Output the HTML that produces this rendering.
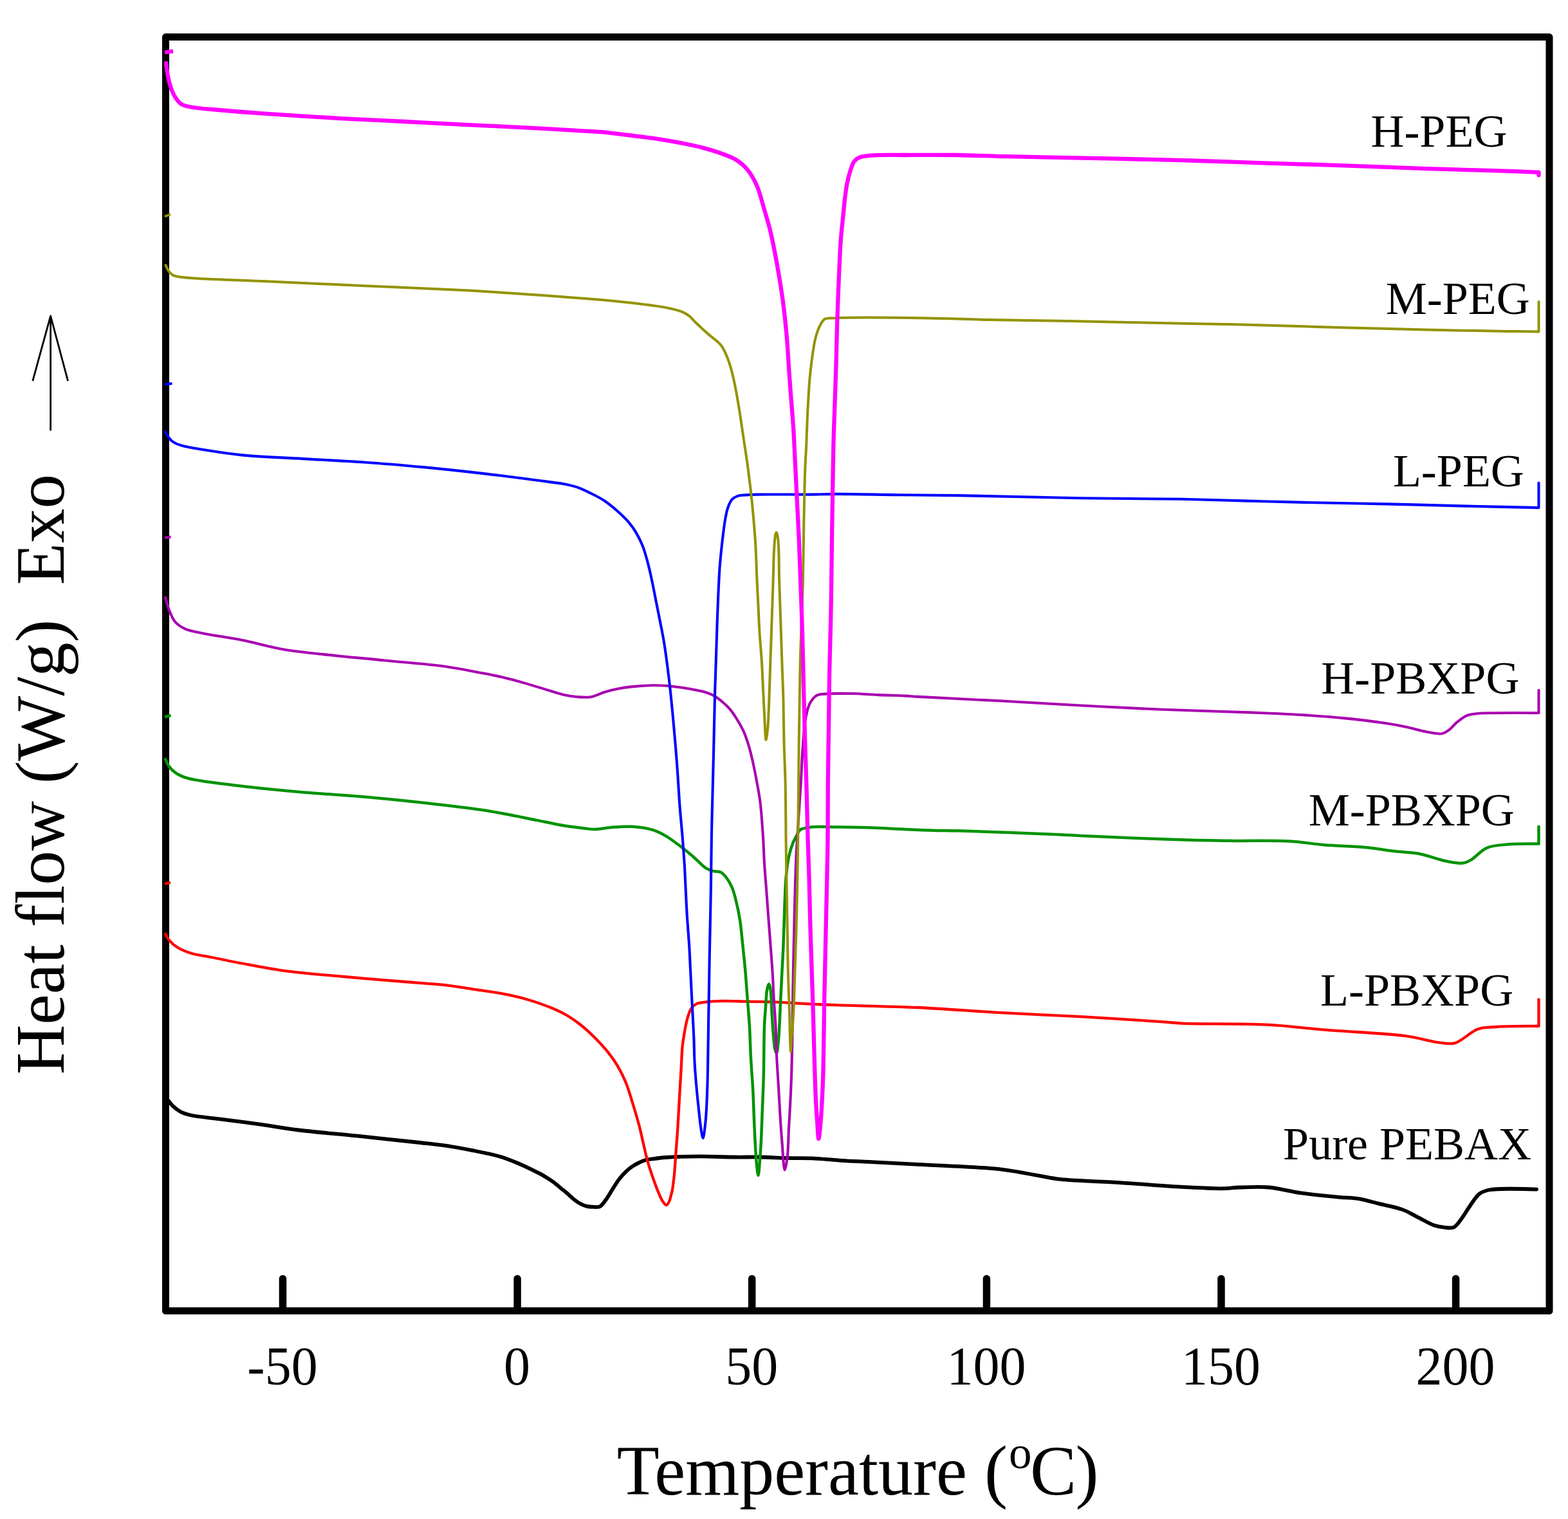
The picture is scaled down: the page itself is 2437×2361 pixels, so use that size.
<!DOCTYPE html>
<html><head><meta charset="utf-8"><title>DSC curves</title>
<style>html,body{margin:0;padding:0;background:#fff;}svg{display:block;}</style>
</head><body>
<svg width="2437" height="2361" viewBox="0 0 2437 2361">
<rect width="2437" height="2361" fill="#fff"/>
<rect x="257.5" y="57.6" width="2150.5" height="1979.9" fill="none" stroke="#000" stroke-width="11" stroke-linejoin="round"/>
<g stroke="#000" stroke-width="11.5" stroke-linecap="round">
<line x1="439.5" y1="1987.5" x2="439.5" y2="2037"/>
<line x1="804.1" y1="1987.5" x2="804.1" y2="2037"/>
<line x1="1168.7" y1="1987.5" x2="1168.7" y2="2037"/>
<line x1="1533.4" y1="1987.5" x2="1533.4" y2="2037"/>
<line x1="1898" y1="1987.5" x2="1898" y2="2037"/>
<line x1="2262.6" y1="1987.5" x2="2262.6" y2="2037"/>
</g>
<g fill="none" stroke-linejoin="round" stroke-linecap="round">
<path stroke="#000000" stroke-width="5.8" d="M262.2,1711.2C262.2,1711.2 265.8,1716.4 268.4,1718.9C271.6,1722 276.1,1725.6 280.6,1728C285.2,1730.5 289.3,1731.7 295.9,1733.3C307,1735.9 325.4,1737.3 341.8,1739.4C360.7,1741.9 382.6,1744.5 403,1747.3C423.4,1750.2 441.8,1753.7 464.3,1756.5C491.8,1759.9 525.5,1762.5 556.1,1765.7C586.7,1768.9 622.8,1772.7 647.9,1775.5C665.3,1777.5 677.6,1778.6 692.1,1780.7C706.4,1782.8 720.3,1785.3 734.3,1788.1C748.4,1790.9 763.8,1793.8 776.4,1797.5C787,1800.6 795.8,1804.2 805,1808C813.7,1811.6 823.7,1816.6 830.2,1819.8C834.4,1821.8 837,1823.1 840.4,1824.9C843.8,1826.8 847.2,1828.9 850.6,1831C854,1833.1 857.5,1835.2 860.8,1837.7C864.3,1840.3 867.6,1843.5 871,1846.3C874.4,1849.1 877.8,1851.6 881.2,1854.5C884.6,1857.4 887.9,1860.9 891.4,1863.7C894.7,1866.3 898.1,1868.9 901.6,1870.8C904.9,1872.6 908.3,1874.1 911.8,1874.9C915.1,1875.7 918.6,1875.8 922,1875.9C925.4,1876 929.1,1876.9 932.2,1875.4C936,1873.5 939.2,1868.1 942.4,1863.7C946,1858.8 949.2,1852.6 952.7,1847.3C956.1,1842.1 959.3,1836.6 962.9,1832C966.2,1827.8 969.6,1824.1 973.1,1820.8C976.4,1817.7 979.8,1815 983.3,1812.7C986.6,1810.5 990,1808.6 993.5,1807C996.8,1805.4 1000.2,1803.9 1003.7,1803C1007.1,1802.1 1009.9,1801.9 1013.9,1801.4C1019.5,1800.6 1025.9,1799.6 1034.3,1799C1047.7,1798 1069.4,1797.5 1086.9,1797.4C1104.5,1797.3 1123,1798.3 1139.6,1798.5C1154.4,1798.7 1167.7,1798.3 1181.7,1798.5C1195.7,1798.7 1209.8,1799.7 1223.8,1800C1237.9,1800.4 1252,1800 1266,1800.6C1280.1,1801.2 1294.1,1802.9 1308.1,1803.8C1322.1,1804.7 1334,1805.1 1350,1805.9C1371.7,1807 1397.7,1808.3 1426.4,1809.9C1463.3,1811.9 1524.8,1814.2 1552.8,1817.1C1566.9,1818.6 1573.9,1820.2 1584.4,1821.9C1594.9,1823.7 1605.5,1825.8 1616,1827.6C1626.5,1829.4 1634.1,1831.4 1647.5,1832.9C1670.6,1835.5 1710.7,1836.3 1742.3,1838.3C1773.9,1840.3 1808.9,1843.4 1837,1844.9C1859.6,1846.1 1881.3,1847.5 1898.2,1847.3C1910.2,1847.2 1917.7,1845.8 1928.8,1845.5C1941.9,1845.1 1957,1844.2 1971.7,1845.5C1987.5,1846.9 2003.4,1851.6 2020.7,1854.1C2039.9,1856.8 2065,1859.2 2081.9,1860.8C2093.8,1861.9 2102.4,1861.6 2112.5,1863.3C2122.8,1865 2132.4,1868.2 2143.1,1870.9C2154.8,1873.8 2169,1876.1 2179.8,1880.1C2189,1883.5 2196.1,1888.2 2204.3,1892.3C2212.5,1896.4 2221.4,1902.1 2228.8,1904.6C2234.4,1906.5 2239,1907.1 2244.1,1907.6C2249.2,1908.1 2254.9,1909.6 2259.4,1907.6C2264.3,1905.4 2267.8,1899 2271.7,1893.9C2276,1888.4 2279.5,1881.7 2283.9,1875.5C2288.6,1868.9 2293.4,1860 2299.2,1855.6C2303.9,1852.1 2307.3,1850.9 2314.5,1849.5C2329.7,1846.5 2388,1848.6 2388,1848.6"/>
<path stroke="#ff0000" stroke-width="4.3" d="M257,1451.7C257,1451.7 260,1458.1 262.6,1461.2C265.8,1465 270.2,1469.1 275.3,1472.3C281.4,1476.1 289.2,1479.3 297.4,1481.8C306.9,1484.7 317.4,1485.7 329,1488C343.2,1490.8 359.4,1494.3 376.4,1497.5C395.9,1501.2 416.3,1505.4 439.6,1508.6C467.9,1512.5 502.8,1515.1 534.4,1518C566,1520.9 600.7,1523.7 629.1,1526C652.2,1527.9 673.2,1528.9 692.1,1531.1C707.6,1532.9 720.2,1535.3 734.3,1537.4C748.3,1539.5 762.4,1541.1 776.4,1543.7C790.5,1546.3 804.6,1549.2 818.5,1553.2C832.7,1557.3 849.1,1563.1 860.6,1568C869,1571.5 874.8,1574.4 881.7,1578.5C888.9,1582.8 895.9,1587.7 902.8,1593.2C910,1598.9 917,1605.4 923.8,1612.2C931,1619.4 938.7,1627.7 944.9,1635.4C950.5,1642.4 955.1,1648.9 959.6,1656.4C964.3,1664.3 968.5,1672.7 972.3,1681.7C976.4,1691.5 979.4,1702.4 982.8,1713.3C986.4,1724.8 990.3,1737.6 993.3,1749.1C996.1,1759.7 998.2,1770.2 1000.5,1780C1002.6,1788.8 1004.4,1797.3 1006.5,1805C1008.4,1811.8 1010.4,1817.9 1012.5,1824C1014.5,1829.8 1016.5,1835.6 1018.5,1841C1020.3,1845.9 1022.1,1850.6 1024,1855C1025.8,1859.1 1027.3,1863.3 1029.5,1866.5C1031.4,1869.2 1033.9,1873.3 1035.8,1873.2C1037.6,1873.1 1039.3,1868.9 1040.5,1866.4C1041.6,1864 1042,1861.1 1042.7,1858.5C1043.4,1855.9 1044.2,1853.4 1044.8,1850.6C1045.5,1847.3 1045.8,1843.7 1046.3,1840C1046.8,1835.9 1047.4,1831.8 1047.9,1826.9C1048.5,1820.7 1049,1812.3 1049.5,1805.8C1049.9,1800.2 1050.1,1796.3 1050.6,1790C1051.3,1780.7 1052.4,1768.1 1053.2,1755.3C1054.2,1739.6 1055.2,1719.3 1056.2,1702.7C1057.1,1687.9 1057.9,1673.8 1058.7,1660.5C1059.4,1648.6 1059.6,1636.5 1060.6,1626.5C1061.4,1618.6 1062.5,1612.4 1063.7,1605.4C1064.9,1598.4 1066.1,1591 1068,1584.4C1069.7,1578.4 1071.4,1571.7 1074.3,1567.5C1076.6,1564.2 1079.2,1561.8 1082.7,1560.1C1086.7,1558.2 1091.8,1558.1 1097.4,1557.4C1104.7,1556.5 1113.4,1556.1 1122.7,1555.9C1134.1,1555.7 1147.6,1556.4 1160.6,1556.6C1174.3,1556.9 1188.2,1556.9 1202.7,1557.4C1218.3,1558 1235,1559.3 1251.2,1560.1C1267.4,1560.9 1279.9,1561.5 1300,1562.2C1332.3,1563.4 1384.3,1564.1 1426.4,1566C1468.5,1568 1510.7,1571.5 1552.8,1573.9C1594.9,1576.3 1637,1577.8 1679.1,1580.2C1721.2,1582.6 1777.4,1586.1 1805.5,1588.1C1819.5,1589.1 1822.8,1589.9 1837,1590.6C1866.4,1592 1932.9,1590.6 1972.9,1592.8C2004.7,1594.5 2027,1598.1 2058.2,1600.7C2096.2,1603.9 2151.8,1605.8 2184.5,1610.2C2205.6,1613 2221.8,1618.6 2236,1620.3C2245.8,1621.5 2252.3,1623.6 2261,1621.4C2272.3,1618.5 2285.1,1603.6 2297,1599.5C2307,1596.1 2314.9,1596.8 2326.7,1596C2344.1,1594.8 2391.5,1595 2391.5,1595L2391.5,1553.3"/>
<path stroke="#ff0000" stroke-width="4.3" stroke-linecap="butt" d="M256,1374 L265,1371.5"/>
<path stroke="#009200" stroke-width="4.5" d="M257,1180C257,1180 260.2,1187.7 262.6,1191.1C265.1,1194.6 268.3,1197.8 272.1,1200.6C276.5,1203.8 281.9,1206.4 288,1208.5C295.3,1211 302.9,1212 313.2,1213.8C329.5,1216.6 353.2,1219.3 376.4,1222C404.8,1225.3 439.6,1228.7 471.2,1231.5C502.8,1234.2 534.4,1235.8 566,1238.5C597.6,1241.3 629.6,1244.5 660.7,1248C690.9,1251.4 725.8,1255.5 750,1259.1C766.7,1261.6 778.1,1263.9 792.1,1266.5C806.2,1269.1 820.2,1272.1 834.3,1274.9C848.3,1277.7 863.3,1281.1 876.4,1283.3C887.7,1285.2 899.1,1286.5 908,1287.5C914.5,1288.2 918.6,1289.1 924.8,1289C932.4,1288.9 941.2,1286.7 950.1,1286C960,1285.2 971.2,1284.2 981.7,1284.8C992.3,1285.4 1004,1286.9 1013.3,1289.6C1021.2,1291.9 1027.6,1295.2 1034.4,1299.1C1041.6,1303.2 1048.5,1308.6 1055.4,1313.8C1062.5,1319.1 1069.6,1324.8 1076.5,1330.7C1083.6,1336.7 1091.5,1345.9 1097.6,1349.7C1101.5,1352.1 1104.4,1352.9 1108.1,1353.9C1112.1,1355 1117.2,1354.2 1120.7,1356C1124.1,1357.8 1126.5,1361 1129.1,1364.4C1132.2,1368.5 1135.2,1373.7 1137.6,1379.2C1140.3,1385.4 1142,1392.3 1143.9,1400C1146.2,1409.2 1148.4,1419.8 1150.1,1430.6C1152,1442.5 1152.9,1455.5 1154.3,1468.5C1155.7,1482.2 1157.3,1496.6 1158.5,1510.6C1159.7,1524.7 1160.6,1538.7 1161.7,1552.8C1162.8,1566.8 1164,1580.2 1164.9,1594.9C1165.8,1610.9 1166.1,1628.6 1167,1645C1167.9,1660.9 1169.2,1676 1170.1,1692.1C1171,1709.2 1171.5,1728.2 1172.2,1744.8C1172.9,1759.6 1173.5,1774.4 1174.3,1786.9C1174.9,1797 1175.5,1806.9 1176.4,1814.3C1177,1819.3 1177.9,1826.9 1178.5,1826.9C1179.3,1826.9 1180,1815.1 1180.6,1808C1181.4,1798.8 1182.1,1788.3 1182.8,1776.4C1183.6,1761.1 1184.2,1741.3 1184.9,1723.7C1185.6,1706.2 1186.3,1690.3 1186.8,1671.1C1187.4,1648 1187.2,1614.8 1188,1594.9C1188.5,1582.1 1189.4,1573.2 1190.1,1563.3C1190.8,1554.4 1190.9,1544.1 1192.2,1538C1192.9,1534.4 1194.1,1529.6 1195,1529.6C1195.9,1529.6 1196.8,1534.2 1197.5,1538C1198.9,1545.7 1198.9,1562.2 1199.6,1573.8C1200.3,1584.7 1200.9,1595.5 1201.7,1605.4C1202.5,1614.1 1202.9,1624.4 1204.3,1630C1205,1633.1 1206.2,1637.1 1207,1637C1208.3,1636.8 1209.1,1624.9 1210,1616C1211.5,1600.6 1212.3,1571.7 1213.3,1552.8C1214.1,1537.3 1214.7,1524.7 1215.4,1510.6C1216.1,1496.6 1216.9,1484 1217.5,1468.5C1218.3,1449.6 1218.8,1424.2 1219.6,1405.3C1220.2,1389.8 1220.5,1376.2 1221.7,1363.2C1222.7,1351.9 1224,1341 1226,1331.6C1227.7,1323.8 1229.9,1316.5 1232.3,1310.5C1234.2,1305.7 1236.5,1301.7 1238.6,1298C1240.3,1294.9 1241,1291.7 1243.8,1289.7C1247.5,1287 1253.7,1286.4 1260.6,1285.5C1271.4,1284.2 1288,1285.4 1302.8,1285.5C1319.4,1285.7 1338.8,1285.9 1355.4,1286.5C1370.2,1287 1382.7,1287.9 1397.5,1288.6C1414,1289.3 1433.7,1290.3 1450,1290.7C1464.1,1291.1 1472,1290.8 1489.6,1291.3C1524.7,1292.2 1615,1295.7 1647.5,1297.2C1662.1,1297.9 1664.5,1298.3 1679.1,1299C1711.6,1300.6 1793.4,1304 1837,1305.3C1867.8,1306.2 1888.9,1306.5 1916,1306.9C1944.7,1307.3 1978.7,1306 2004.5,1307.5C2024.7,1308.6 2039.6,1311.7 2058.2,1313.2C2078.4,1314.9 2101.9,1315.1 2121.4,1317C2138.4,1318.6 2154.2,1321.7 2168.8,1323.3C2181.3,1324.7 2191.3,1324.3 2203.5,1326.5C2217.4,1329 2234.9,1336 2247.7,1338.5C2257.2,1340.4 2266.1,1342.4 2273,1341.6C2278,1341 2281,1339.5 2285.7,1336.9C2292.9,1332.9 2301.5,1322 2310.9,1317.9C2320.4,1313.8 2330.8,1313.7 2342.5,1312.6C2357,1311.2 2391.5,1311.6 2391.5,1311.6L2391.5,1284.8"/>
<path stroke="#009200" stroke-width="4.5" stroke-linecap="butt" d="M256,1114.5 L265.5,1112"/>
<path stroke="#a800b0" stroke-width="4.1" d="M257,928.6C257,928.6 260.2,941.3 262.6,947.5C265.1,953.9 267.7,961.4 272.1,966.5C276.3,971.3 281.8,974.8 288,977.6C295.2,980.9 302.9,981.7 313.2,983.9C329.5,987.4 355.4,990.8 376.4,995C397.5,999.2 418.4,1005.5 439.6,1009.2C460.6,1012.9 479.6,1014.5 502.8,1017.1C531.2,1020.3 566,1023.3 597.6,1026.5C629.2,1029.6 664.7,1032.2 692.3,1036C714,1039 733.7,1043.2 750,1046.3C762.1,1048.6 771.1,1050.2 781.6,1052.7C792.2,1055.2 802.7,1058.1 813.2,1061.1C823.8,1064.1 834.3,1067.4 844.8,1070.6C855.3,1073.7 866.9,1077.9 876.4,1080C884,1081.7 890.4,1082.7 897.4,1083.2C904.4,1083.7 911.6,1084.4 918.5,1083.2C925.6,1082 932.5,1077.9 939.6,1075.8C946.6,1073.7 953.6,1072 960.6,1070.6C967.6,1069.2 973.9,1068.2 981.7,1067.4C991.2,1066.4 1003.8,1065.5 1013.3,1065.3C1021,1065.1 1027.9,1065.3 1034.4,1065.7C1040,1066.1 1044.4,1066.8 1050,1067.5C1056.5,1068.4 1064,1069.4 1071,1070.6C1078,1071.8 1085.5,1072.9 1092.1,1074.8C1098.1,1076.5 1103.7,1078.3 1109,1081.1C1114.3,1083.9 1119.3,1088 1123.7,1091.7C1127.7,1095.1 1130.9,1098.2 1134.3,1102.2C1138,1106.6 1141.4,1111.7 1144.8,1117C1148.5,1122.8 1152.2,1129.1 1155.3,1135.9C1158.6,1143.1 1161.3,1151.1 1163.7,1159.1C1166.2,1167.3 1168.1,1175.5 1170.1,1184.4C1172.3,1194.3 1174.5,1205.5 1176.4,1216C1178.3,1226.5 1180.1,1235.6 1181.6,1247.5C1183.5,1262.7 1184.8,1283.5 1185.9,1300C1186.9,1314.8 1187.1,1328.1 1188,1342.1C1188.9,1356.2 1190.1,1370.2 1191.2,1384.3C1192.2,1398.3 1193.3,1412.4 1194.3,1426.4C1195.4,1440.4 1196.4,1454.5 1197.5,1468.5C1198.5,1482.5 1199.7,1496.6 1200.6,1510.6C1201.5,1524.7 1201.9,1538.7 1202.7,1552.8C1203.5,1566.8 1204.8,1580.6 1205.5,1594.9C1206.2,1609.7 1206.3,1624.6 1207,1640C1207.8,1656.2 1209.1,1673.9 1210,1690C1210.9,1705.1 1211.6,1719.5 1212.5,1734C1213.4,1748.2 1214.3,1762 1215.5,1776C1216.7,1790.1 1217.9,1818.4 1219.6,1818.5C1220.8,1818.6 1222.8,1805.7 1223.8,1797.4C1225.2,1785.8 1225.2,1769.3 1225.9,1755.3C1226.7,1741.3 1227.6,1727.2 1228.3,1713.2C1229,1699.2 1229.6,1685.8 1230.1,1671.1C1230.6,1654.9 1231,1638.9 1231.3,1620C1231.7,1596.3 1231.8,1570.6 1232.3,1540C1233,1498.8 1234.4,1433.6 1235.4,1394.8C1236.1,1368.9 1236.6,1349 1237.5,1330C1238.2,1315.1 1239.2,1303.3 1240,1290C1240.8,1276.7 1241.7,1262.8 1242.5,1250C1243.3,1238.2 1244.1,1227.9 1244.8,1216C1245.6,1202.7 1246,1187.9 1246.9,1173.8C1247.8,1159.8 1248.8,1143.3 1250.1,1131.7C1251,1123.4 1251.8,1117.2 1253.3,1110.6C1254.7,1104.6 1255.8,1098.8 1258.5,1093.8C1261.1,1089 1264.9,1083.6 1269.1,1081.1C1272.8,1078.9 1276.2,1079.2 1281.7,1078.6C1291.6,1077.6 1309.8,1077.8 1323.8,1078C1337.9,1078.2 1351.9,1079.5 1366,1080.1C1380,1080.7 1397,1081 1408.1,1081.6C1415.5,1082 1417.6,1082.4 1426.4,1082.9C1449.6,1084.3 1510.7,1087 1552.8,1089.3C1594.9,1091.6 1637,1094.3 1679.1,1096.5C1721.2,1098.8 1766.4,1101.2 1805.5,1102.8C1839.3,1104.2 1871.8,1105 1900.2,1106C1923.4,1106.8 1942.3,1107.3 1963.4,1108.2C1984.5,1109.1 2005.5,1110 2026.6,1111.4C2047.7,1112.8 2068.8,1114.3 2089.8,1116.4C2110.9,1118.5 2135.6,1121.4 2153,1124C2165.3,1125.9 2174,1127.5 2184.5,1129.7C2195.1,1131.9 2206.1,1135.4 2216.1,1137.2C2224.8,1138.8 2234.4,1141.4 2241,1140.2C2245.9,1139.3 2249.3,1136.5 2253,1133.8C2256.8,1131 2259.5,1126.8 2263.5,1123.4C2268.1,1119.6 2273.8,1114.7 2279.3,1112.3C2284.3,1110.1 2288.9,1109.9 2295.1,1109.2C2303.8,1108.2 2314.3,1108.4 2326.7,1108.2C2344.5,1107.9 2391.5,1108.2 2391.5,1108.2L2391.5,1072.8"/>
<path stroke="#a800b0" stroke-width="4.1" stroke-linecap="butt" d="M256,836 L265.5,834.5"/>
<path stroke="#0000ff" stroke-width="4.1" d="M257,671.1C257,671.1 260.5,677.9 262.6,680.6C264.5,683.1 266.3,685.1 269,686.9C272.3,689.1 276.3,690.7 281.6,692.3C289.7,694.8 300.8,696.5 313.2,698.6C330.6,701.5 353.2,705.1 376.4,707.4C404.8,710.2 439.6,711.2 471.2,713.1C502.8,714.9 534.4,716.3 566,718.5C597.6,720.7 629.6,723.5 660.7,726.4C690.9,729.3 725.8,733.1 750,735.9C766.6,737.8 778.1,739.2 792.1,741C806.2,742.8 820.2,744.6 834.3,746.5C848.3,748.4 864.8,750 876.4,752.2C884.7,753.8 890.5,755 897.4,757.4C904.5,759.9 911.5,763.4 918.5,766.9C925.6,770.4 932.8,773.9 939.6,778.5C946.8,783.3 954.1,789.5 960.6,795.3C966.7,800.8 972.7,806.6 977.5,812.2C981.6,817.1 984.7,821.4 988,826.9C991.8,833.2 995.5,840.4 998.6,848C1002,856.4 1004.5,866.2 1007,875.4C1009.4,884.5 1011.3,893.3 1013.3,902.8C1015.5,912.9 1017.5,923.9 1019.6,934.4C1021.7,944.9 1023.8,955.3 1025.9,966C1028.1,977.1 1030.2,986.9 1032.3,1000C1035.2,1017.8 1038.2,1042.1 1040.7,1063.2C1043.1,1084.2 1045.1,1105.3 1047,1126.4C1048.9,1147.5 1050.7,1168.5 1052.3,1189.6C1053.9,1210.7 1055,1233.3 1056.5,1252.8C1057.8,1269.7 1059.4,1284.7 1060.6,1300C1061.8,1314.4 1062.8,1328.1 1063.7,1342.1C1064.6,1356.2 1065.1,1370.2 1065.8,1384.3C1066.5,1398.3 1067.1,1412.4 1068,1426.4C1068.9,1440.4 1070.2,1454.5 1071.1,1468.5C1072,1482.5 1072.5,1496.6 1073.2,1510.6C1073.9,1524.7 1074.5,1537.3 1075.3,1552.8C1076.3,1571.7 1077.8,1598.2 1078.5,1616C1079,1629.1 1078.9,1638.1 1079.5,1650C1080.2,1663.3 1081.5,1679.1 1082.7,1692.1C1083.7,1703.4 1084.8,1713.5 1085.9,1723.7C1086.9,1733.2 1087.7,1743 1089,1751.1C1090,1757.7 1091.4,1769 1092.6,1769C1093.9,1769 1095.4,1753.4 1096.4,1744.8C1097.5,1735 1098,1723.7 1098.5,1713.2C1099,1702.7 1099.3,1692.1 1099.6,1681.6C1099.9,1671.1 1100,1663.4 1100.2,1650C1100.6,1626.5 1101.2,1581.7 1101.7,1552.8C1102.1,1529.5 1102.3,1513.3 1102.7,1489.6C1103.2,1459 1104.3,1417.5 1104.8,1384.3C1105.3,1354.6 1105.5,1324.1 1105.9,1300C1106.2,1282 1106.6,1270.8 1107,1252.8C1107.6,1228.7 1108.4,1197.4 1109.1,1168.5C1109.8,1137.8 1110.4,1102.4 1111.2,1073.7C1111.9,1049.8 1112.7,1029.8 1113.4,1008.1C1114.1,986.8 1114.6,966 1115.5,944.9C1116.4,923.8 1117.2,900.6 1118.6,881.7C1119.8,866.2 1121.3,852.6 1122.8,839.6C1124.1,828.3 1125.4,817.2 1127,808C1128.3,800.8 1129.3,794.6 1131.3,789C1133,784.3 1134.8,779.5 1137.6,776.4C1139.9,773.8 1143,772.2 1146,771.1C1148.9,770 1151.6,770 1155.3,769.6C1160.9,769 1167,768.8 1176.4,768.6C1195.1,768.2 1237.8,768.8 1260.6,768.6C1276.2,768.5 1284,767.9 1300,767.9C1324.9,767.8 1363.7,768.8 1395.4,769.2C1426.9,769.6 1452.8,769.5 1489.6,770.1C1541.8,770.9 1618.8,773.2 1679.1,774.2C1734.1,775.1 1791,774.9 1837,775.8C1872.6,776.5 1900.2,777.5 1931.8,778.4C1963.4,779.2 1992.7,780.1 2026.6,780.9C2065.7,781.8 2110.9,782.4 2153,783.4C2195.1,784.3 2238.4,785.6 2279.3,786.6C2317.8,787.5 2391.5,789.1 2391.5,789.1L2391.5,750.6"/>
<path stroke="#0000ff" stroke-width="4.1" stroke-linecap="butt" d="M256,597.5 L267.5,596"/>
<path stroke="#939300" stroke-width="4.0" d="M257.4,412.2C257.4,412.2 259.4,416.6 260.5,418.5C261.5,420.2 262.4,421.7 263.7,423.2C265.2,424.9 267.2,426.9 269.2,428C271.1,429 272.7,429.3 275.5,429.8C280.6,430.8 287.3,431.5 297.4,432.3C320.1,434.1 367.9,435.2 408,437C456,439.1 513.3,441.9 566,444.3C618.7,446.7 674.3,448.6 724,451.3C768.4,453.7 819.2,457.4 850,459.6C867.8,460.9 878.1,461.7 892.1,462.8C906.2,463.9 920.2,464.8 934.3,466C948.3,467.2 962.4,468.6 976.4,470.2C990.4,471.8 1006.9,473.7 1018.5,475.4C1026.8,476.6 1032.6,477.4 1039.6,479C1046.7,480.6 1054.9,482.5 1060.6,484.9C1064.9,486.7 1067.8,488.6 1071.2,491.2C1074.9,494.1 1078,498.2 1081.7,501.8C1085.7,505.6 1090.3,509.9 1094.3,513.5C1098,516.8 1101.3,519.8 1104.9,522.8C1108.4,525.7 1112.4,528.5 1115.4,531.3C1117.8,533.6 1119.6,535 1121.6,537.9C1124.5,542.1 1127.6,548.9 1130,554.8C1132.5,560.8 1134.4,566.8 1136.4,573.7C1138.7,581.9 1140.7,591.3 1142.7,601.1C1145,612.2 1147,624.5 1149,636.9C1151.2,650.4 1153.2,665 1155.3,679C1157.4,693.1 1159.7,707.1 1161.6,721.2C1163.5,735.2 1165.3,749.3 1166.9,763.3C1168.5,777.3 1169.9,791.4 1171.1,805.4C1172.3,819.4 1173.4,832.7 1174.3,847.5C1175.3,864 1175.7,883.5 1176.4,900C1177.1,914.8 1177.8,928.1 1178.5,942.1C1179.2,956.2 1179.7,970.2 1180.6,984.3C1181.5,998.3 1182.9,1012.4 1183.8,1026.4C1184.7,1040.4 1185.2,1054.5 1185.9,1068.5C1186.6,1082.5 1187.2,1096.8 1188,1110.6C1188.8,1124 1189.4,1150 1190.5,1150C1191.3,1150 1192.5,1139.1 1193.2,1131.7C1194.3,1120.6 1194.7,1105.1 1195.3,1089.6C1196.1,1070.7 1196.7,1047.5 1197.4,1026.4C1198.1,1005.3 1198.9,984.3 1199.6,963.2C1200.3,942.1 1201.1,918.9 1201.7,900C1202.2,884.6 1202.2,870.3 1202.9,858C1203.4,848.3 1204,837.1 1205,832C1205.4,829.8 1206,827.5 1206.5,827.5C1207.1,827.5 1207.8,830 1208.3,832C1209.3,836 1209.7,842.5 1210.1,850C1210.8,862.5 1210.6,882.4 1211.1,900C1211.6,919.8 1212.5,942.1 1213.2,963.2C1213.9,984.3 1214.6,1005.3 1215.3,1026.4C1216,1047.5 1217,1068.5 1217.5,1089.6C1218,1110.7 1218,1131.7 1218.5,1152.8C1219,1173.9 1220.1,1193.4 1220.6,1216C1221.2,1242 1221.2,1275.2 1221.5,1300C1221.7,1319.6 1221.9,1332.6 1222.2,1352.7C1222.6,1379.7 1223.3,1419 1223.8,1447.4C1224.2,1470.6 1224.3,1489.5 1224.8,1510.6C1225.3,1531.7 1226.4,1554.9 1227,1573.8C1227.5,1589.3 1227.5,1604.7 1228,1616C1228.3,1623.6 1228.7,1635 1229.1,1635C1229.4,1635 1229.6,1623.6 1230.1,1616C1230.8,1604.7 1232.5,1589.3 1233.3,1573.8C1234.3,1554.9 1234.7,1531.7 1235.4,1510.6C1236.1,1489.5 1236.9,1470 1237.5,1447.4C1238.2,1421.3 1238.9,1389.3 1239.4,1363.2C1239.8,1340.6 1240,1325.5 1240.3,1300C1240.8,1261.2 1241.2,1191.6 1241.7,1152.8C1242,1127.3 1242.4,1110.7 1242.7,1089.6C1243.1,1068.5 1243.3,1047.5 1243.8,1026.4C1244.3,1005.3 1245.2,984.3 1245.9,963.2C1246.6,942.1 1247.5,922.6 1248,900C1248.6,874 1248.8,844 1249.3,816C1249.8,787.9 1250.4,755 1251.2,731.7C1251.8,715.3 1252.6,704.4 1253.3,689.6C1254,673 1254.5,654.1 1255.4,636.9C1256.3,620.4 1257.1,603.4 1258.5,588.5C1259.7,575.7 1261.1,563.6 1262.7,552.7C1264,543.5 1265.1,535.2 1267,527.4C1268.7,520.5 1270.6,513.9 1273.3,508.4C1275.6,503.6 1277.8,498.4 1281.7,496C1285.7,493.6 1289.5,494.8 1297.4,494.4C1321,493.2 1397,493.8 1439.6,494.4C1474.4,494.9 1500.5,496.2 1534.4,496.9C1573.5,497.8 1614.4,498.2 1660.7,499.1C1717.4,500.2 1794.9,501.7 1850,502.9C1892.6,503.8 1924.6,504.4 1963.4,505.4C2004.4,506.5 2047.7,508 2089.8,509.2C2131.9,510.4 2174,511.5 2216.1,512.4C2258.2,513.4 2310.2,514.4 2342.5,514.9C2362.6,515.2 2391.5,515.5 2391.5,515.5L2391.5,469.1"/>
<path stroke="#939300" stroke-width="4.0" stroke-linecap="butt" d="M256,336.5 L265,333"/>
<path stroke="#ff00ff" stroke-width="6.3" d="M258,98C258,98 258.8,105.7 259.5,110C260.3,114.9 261.5,121.1 262.6,125.8C263.5,129.6 264.4,132.8 265.5,136C266.5,139.1 267.7,142.1 269,144.8C270.2,147.4 271.5,149.7 273,152C274.6,154.4 276.4,157.1 278.4,159C280.1,160.7 281.9,162 284,163C286.1,164.1 288.5,164.7 291,165.3C293.8,166 296.1,166.4 300,167C306.9,168 317,168.9 329,170C348.9,171.8 378.6,174.3 408,176.4C445.2,179.1 495.3,182.1 534.4,184.3C568.2,186.2 597.4,187.4 629,189C660.6,190.6 690.1,192.1 724,193.8C763,195.8 819.2,198.4 850,200.1C867.8,201.1 878.1,201.9 892.1,202.7C906.2,203.6 920.3,204 934.3,205.2C948.4,206.4 962.4,208.3 976.4,210C990.4,211.7 1004.5,213.2 1018.5,215.3C1032.6,217.4 1047.6,220.1 1060.6,222.7C1071.9,224.9 1081.7,226.8 1092.2,229.6C1102.8,232.4 1114.4,235.9 1123.8,239.5C1131.6,242.5 1138.5,244.9 1144.9,249C1151.1,253 1156.7,257.7 1161.7,263.7C1167.4,270.6 1172.4,279.7 1176.5,289C1181,299.2 1183.6,311.1 1187,322.7C1190.6,334.9 1194.3,346.9 1197.6,360.6C1201.4,376.7 1204.9,395.7 1208.1,413.3C1211.2,430.8 1214.1,448.5 1216.5,466C1218.9,483.4 1220.6,499.6 1222.3,518C1224.2,538.7 1225.5,564.7 1226.9,584.3C1228,599.9 1229,612.4 1230.1,626.4C1231.2,640.4 1232.4,654.5 1233.3,668.5C1234.2,682.5 1234.7,696.6 1235.4,710.6C1236.1,724.7 1236.8,738.7 1237.5,752.8C1238.2,766.8 1238.9,780.9 1239.6,794.9C1240.3,808.9 1241,821.6 1241.7,837C1242.5,855.9 1243.2,877.5 1244,900C1244.9,926 1246.2,956 1247,984C1247.8,1012.1 1248.3,1040.4 1249,1068.5C1249.7,1096.6 1250.4,1126.7 1251.2,1152.8C1251.9,1175.4 1252.6,1193.4 1253.3,1216C1254.1,1242 1254.6,1274 1255.4,1300C1256.1,1322.6 1256.8,1340.6 1257.5,1363.2C1258.3,1389.3 1258.8,1421.3 1259.6,1447.4C1260.3,1470 1261,1489.5 1261.7,1510.6C1262.4,1531.7 1263.2,1552.7 1263.8,1573.8C1264.4,1594.9 1264.8,1615 1265.5,1637C1266.2,1661.2 1267.1,1693.3 1268.1,1713.2C1268.7,1726 1269.5,1734.9 1270.2,1744.8C1270.9,1753.7 1271.4,1770 1272.3,1770C1273.2,1770 1274.6,1753.7 1275.4,1744.8C1276.3,1734.9 1276.9,1724.5 1277.5,1713.2C1278.2,1700.2 1278.8,1686.1 1279.3,1671.1C1279.8,1654 1280,1635 1280.3,1616C1280.6,1595.7 1280.8,1574.8 1281.2,1553C1281.6,1529.3 1282.2,1505.2 1282.8,1479C1283.4,1449.4 1284.3,1414.9 1284.9,1384.3C1285.5,1355.4 1286.2,1328.1 1286.5,1300C1286.8,1272 1286.6,1244 1286.8,1216C1287,1187.9 1287.6,1159.8 1288,1131.7C1288.4,1103.6 1288.6,1075.5 1289.1,1047.4C1289.6,1019.3 1290.7,989.1 1291.2,963C1291.7,940.5 1291.9,922.5 1292.2,900C1292.6,874 1292.9,842 1293.3,816C1293.6,793.4 1294,773.9 1294.3,752.8C1294.7,731.7 1294.9,710.7 1295.4,689.6C1295.9,668.5 1296.8,647.5 1297.5,626.4C1298.2,605.3 1299,584.3 1299.6,563.2C1300.2,542.1 1300.5,521.3 1301.2,500C1301.9,478.3 1302.7,456.1 1303.7,434.4C1304.6,413.1 1305.6,388.6 1306.9,371.2C1307.8,358.8 1309,350.1 1310,339.6C1311.1,329.1 1312,317.6 1313.2,308C1314.2,300 1315,293 1316.4,285.9C1317.7,279.3 1319.2,272.9 1321.1,266.9C1322.9,261.3 1324.6,254.9 1327.4,251.1C1329.6,248.1 1331.8,246.3 1335.3,244.8C1340.1,242.7 1346.3,242.3 1354.3,241.6C1367.6,240.4 1388.4,241.1 1408,241C1431.8,240.9 1460.7,240.6 1487,241C1513.3,241.4 1535.2,242.5 1566,243.2C1609.6,244.2 1674.2,245.3 1723.9,246.4C1768.3,247.4 1809.1,248.3 1850,249.5C1888.8,250.6 1924.6,252 1963.4,253.3C2004.4,254.7 2047.7,255.9 2089.8,257.4C2131.9,258.9 2174,260.7 2216.1,262.1C2258.2,263.5 2310.2,264.8 2342.5,265.9C2362.6,266.6 2391.5,267.8 2391.5,267.8L2391.5,272.3"/>
<path stroke="#ff00ff" stroke-width="6.3" stroke-linecap="butt" d="M256,81.5 L269,79.5"/>
</g>
<text font-family="'Liberation Serif','Times New Roman',serif" font-size="82" text-anchor="middle" fill="#000" transform="translate(439,2152) scale(1,1.03)">-50</text>
<text font-family="'Liberation Serif','Times New Roman',serif" font-size="82" text-anchor="middle" fill="#000" transform="translate(803.6,2152) scale(1,1.03)">0</text>
<text font-family="'Liberation Serif','Times New Roman',serif" font-size="82" text-anchor="middle" fill="#000" transform="translate(1168.2,2152) scale(1,1.03)">50</text>
<text font-family="'Liberation Serif','Times New Roman',serif" font-size="82" text-anchor="middle" fill="#000" transform="translate(1532.9,2152) scale(1,1.03)">100</text>
<text font-family="'Liberation Serif','Times New Roman',serif" font-size="82" text-anchor="middle" fill="#000" transform="translate(1897.5,2152) scale(1,1.03)">150</text>
<text font-family="'Liberation Serif','Times New Roman',serif" font-size="82" text-anchor="middle" fill="#000" transform="translate(2262.1,2152) scale(1,1.03)">200</text>
<g font-family="'Liberation Serif','Times New Roman',serif" font-size="72" fill="#000">
<text x="2130.4" y="228.2">H-PEG</text>
<text x="2153.8" y="488.1">M-PEG</text>
<text x="2164.9" y="756">L-PEG</text>
<text x="2053.3" y="1078.2">H-PBXPG</text>
<text x="2033.7" y="1283">M-PBXPG</text>
<text x="2052.1" y="1562.8">L-PBXPG</text>
<text x="1994.1" y="1801.6">Pure PEBAX</text>
</g>
<g font-family="'Liberation Serif','Times New Roman',serif" fill="#000" transform="translate(0,2323) scale(1,1.02)">
<text font-size="108" x="958.8" y="0">Temperature</text>
<text font-size="108" x="1530" y="0">(</text>
<text font-size="71" x="1568" y="-40">o</text>
<text font-size="108" x="1601" y="0">C</text>
<text font-size="108" x="1671.5" y="0">)</text>
</g>
<text font-family="'Liberation Serif','Times New Roman',serif" font-size="107" fill="#000" transform="translate(99,1669.9) rotate(-90)" xml:space="preserve">Heat flow (W/g)  Exo</text>
<g stroke="#000" stroke-width="2.8" fill="none" stroke-linecap="butt" stroke-linejoin="round">
<line x1="78.6" y1="669.3" x2="78.6" y2="492"/>
<polyline points="50.8,592.2 78.6,491 105.6,592.2"/>
</g>
</svg>
</body></html>
